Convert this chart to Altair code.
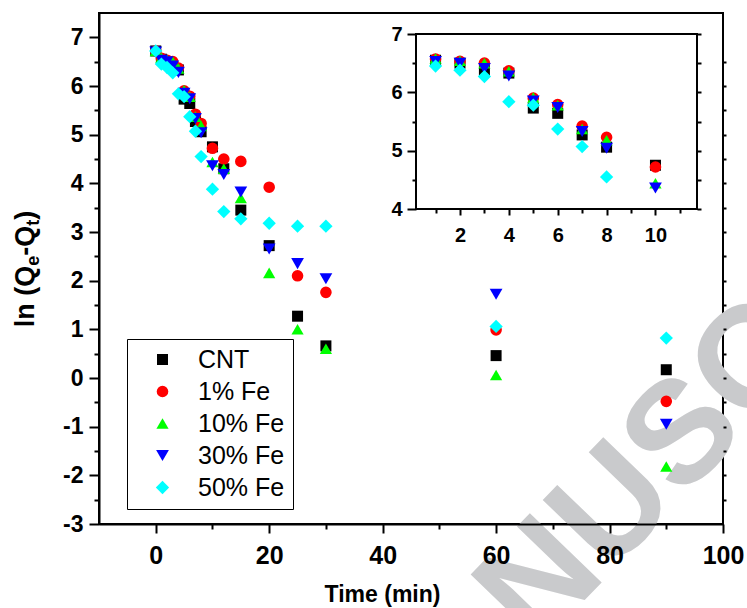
import altair as alt
import pandas as pd

# Sampling times (min)
time_min = [0, 1, 2, 3, 4, 5, 6, 7, 8, 10, 12, 15, 20, 25, 30, 60, 90]

# ln(Qe - Qt) for each adsorbent
series_names = ["CNT", "1% Fe", "10% Fe", "30% Fe", "50% Fe"]
ln_cnt = [6.72, 6.55, 6.50, 6.38, 6.33, 5.73, 5.64, 5.27, 5.06, 4.75, 4.30, 3.45, 2.72, 1.27, 0.66, 0.46, 0.17]
ln_fe1 = [6.72, 6.57, 6.53, 6.50, 6.37, 5.90, 5.79, 5.42, 5.23, 4.72, 4.50, 4.45, 3.92, 2.10, 1.76, 0.99, -0.48]
ln_fe10 = [6.72, 6.58, 6.54, 6.50, 6.36, 5.91, 5.78, 5.37, 5.18, 4.44, 4.30, 3.70, 2.16, 1.00, 0.60, 0.06, -1.82]
ln_fe30 = [6.70, 6.53, 6.50, 6.41, 6.28, 5.85, 5.74, 5.33, 5.04, 4.36, 4.18, 3.82, 2.65, 2.35, 2.04, 1.72, -0.95]
ln_fe50 = [6.72, 6.45, 6.38, 6.27, 5.84, 5.78, 5.37, 5.07, 4.55, 3.88, 3.42, 3.27, 3.18, 3.12, 3.12, 1.06, 0.82]

series_colors = ["#000000", "#ff0000", "#00ff00", "#0000ff", "#00ffff"]
series_shapes = ["square", "circle", "triangle-up", "triangle-down", "diamond"]
series_sizes = [121, 177, 220, 220, 280]

rows = []
for name, vals in zip(series_names, [ln_cnt, ln_fe1, ln_fe10, ln_fe30, ln_fe50]):
    for t, v in zip(time_min, vals):
        rows.append({"series": name, "t": t, "v": v})
df = pd.DataFrame(rows)
one = pd.DataFrame({"k": [0]})

W, H = 624, 511
FONT = "Liberation Sans"
# plain hyphen for negative tick labels
HYPHEN_LABEL = "datum.value < 0 ? '-' + abs(datum.value) : '' + datum.value"

# main scales
x_main = alt.Scale(domain=[-10, 100], nice=False, zero=False)
y_main = alt.Scale(domain=[-3, 7.5], nice=False, zero=False)
# inset scales (pixel ranges inside the plot area)
x_ins = alt.Scale(domain=[0.2, 11.7], range=[317, 598], nice=False, zero=False)
y_ins = alt.Scale(domain=[4, 7], range=[196, 21], nice=False, zero=False)

color_sc = alt.Scale(domain=series_names, range=series_colors)
shape_sc = alt.Scale(domain=series_names, range=series_shapes)
size_sc = alt.Scale(domain=series_names, range=series_sizes)

ax_common = dict(labelFont=FONT, labelFontWeight="bold", labelColor="black",
                 tickColor="black", domainColor="black", grid=False,
                 labelFlush=False, labelOverlap=False, zindex=1)


def minor_axis(values, size, orient, offset=0):
    return alt.Axis(values=values, tickSize=size, tickWidth=2, labels=False,
                    domain=False, title=None, orient=orient, offset=offset,
                    grid=False, tickColor="black", zindex=1)


legend = alt.Legend(orient="none", legendX=28, legendY=326, title=None,
                    labelFont=FONT, labelFontSize=25, labelColor="black",
                    strokeColor="black", fillColor="white", padding=8,
                    rowPadding=6, symbolOffset=15, labelOffset=23,
                    symbolStrokeWidth=0)

# faint diagonal watermark behind everything
watermark = alt.Chart(one).mark_text(
    text="MANUSCRIPT", font=FONT, fontWeight="bold", fontSize=145,
    color="#c9cacc", align="left", baseline="alphabetic", angle=314
).encode(x=alt.value(280), y=alt.value(800))

points = alt.Chart(df).mark_point(filled=True, opacity=1, strokeWidth=0).encode(
    x=alt.X("t:Q", scale=x_main, axis=alt.Axis(
        values=[0, 20, 40, 60, 80, 100], tickSize=9, tickWidth=2, domainWidth=2,
        labelFontSize=25, labelPadding=10, orient="bottom",
        title="Time (min)", titleFont=FONT, titleFontWeight="bold", titleFontSize=23,
        titleColor="black", titleX=283, titleY=77, titleBaseline="alphabetic",
        **ax_common)),
    y=alt.Y("v:Q", scale=y_main, axis=alt.Axis(
        values=list(range(-3, 8)), tickSize=10, tickWidth=2, domainWidth=2,
        labelFontSize=23, labelPadding=6, orient="left", title=None,
        labelExpr=HYPHEN_LABEL, **ax_common)),
    color=alt.Color("series:N", scale=color_sc, legend=legend),
    shape=alt.Shape("series:N", scale=shape_sc, legend=legend),
    size=alt.Size("series:N", scale=size_sc, legend=legend),
)

main_minor = alt.Chart(df).mark_point(opacity=0).encode(
    x=alt.X("t:Q", scale=x_main, axis=minor_axis([10, 30, 50, 70, 90], 5, "bottom")),
    y=alt.Y("v:Q", scale=y_main,
            axis=minor_axis([-2.5 + i for i in range(10)], 5, "left")),
)

main_right = alt.Chart(df).mark_point(opacity=0).encode(
    x=alt.X("t:Q", scale=x_main, axis=None),
    y=alt.Y("v:Q", scale=y_main,
            axis=minor_axis([-2.5 + 0.5 * i for i in range(19)], 3, "right")),
)

inset_frame = alt.Chart(one).mark_rect(fill="white", stroke="black", strokeWidth=2).encode(
    x=alt.value(317), x2=alt.value(598), y=alt.value(21), y2=alt.value(196)
)

inset_pts = alt.Chart(df).transform_filter(
    (alt.datum.t >= 0.2) & (alt.datum.t <= 11.7) & (alt.datum.v >= 4) & (alt.datum.v <= 7)
).mark_point(filled=True, opacity=1, strokeWidth=0).encode(
    x=alt.X("t:Q", scale=x_ins, axis=alt.Axis(
        values=[2, 4, 6, 8, 10], tickSize=6, tickWidth=2, domain=False,
        labelFontSize=20, labelPadding=10, orient="bottom", offset=-315,
        title=None, **ax_common)),
    y=alt.Y("v:Q", scale=y_ins, axis=alt.Axis(
        values=[4, 5, 6, 7], tickSize=9, tickWidth=2, domain=False,
        labelFontSize=20, labelPadding=5, orient="left", offset=-317,
        title=None, **ax_common)),
    color=alt.Color("series:N", scale=color_sc, legend=None),
    shape=alt.Shape("series:N", scale=shape_sc, legend=None),
    size=alt.Size("series:N", scale=size_sc, legend=None),
)

inset_minor = alt.Chart(df).mark_point(opacity=0).encode(
    x=alt.X("t:Q", scale=x_ins, axis=minor_axis([1, 3, 5, 7, 9, 11], 4, "bottom", -315)),
    y=alt.Y("v:Q", scale=y_ins, axis=minor_axis([4.5, 5.5, 6.5], 4, "left", -317)),
)

inset_right = alt.Chart(df).mark_point(opacity=0).encode(
    x=alt.X("t:Q", scale=x_ins, axis=None),
    y=alt.Y("v:Q", scale=y_ins,
            axis=minor_axis([4 + 0.5 * i for i in range(7)], 4, "right", -26)),
)

# rotated y title ln(Qe-Qt) with subscripts, set piece by piece
title_parts = [("ln (Q", 27, 0), ("e", 18, 5), ("-Q", 27, 0), ("t", 18, 5), (")", 27, 0)]
adv = {"l": 278, "n": 611, " ": 278, "(": 333, "Q": 778, "e": 556, "-": 333, "t": 333, ")": 333}
widths = [sum(adv[c] for c in s) * fs / 1000 for s, fs, _ in title_parts]
y_pos = 256 + sum(widths) / 2
title_layers = []
for (s, fs, shift), w in zip(title_parts, widths):
    title_layers.append(
        alt.Chart(one).mark_text(text=s, font=FONT, fontWeight="bold", fontSize=fs,
                                 color="black", align="left", baseline="alphabetic",
                                 angle=270)
        .encode(x=alt.value(-65 + shift), y=alt.value(y_pos))
    )
    y_pos -= w

chart = alt.layer(
    watermark, points, main_minor, main_right, inset_frame, inset_pts,
    inset_minor, inset_right, *title_layers
).resolve_scale(
    x="independent", y="independent", color="independent",
    shape="independent", size="independent"
).properties(
    width=W, height=H,
    autosize=alt.AutoSizeParams(type="none"),
    padding={"left": 99, "top": 13, "right": 24, "bottom": 84},
).configure_view(stroke="black", strokeWidth=2)

chart.save("out.html", embed_options={"renderer": "svg", "actions": False})
